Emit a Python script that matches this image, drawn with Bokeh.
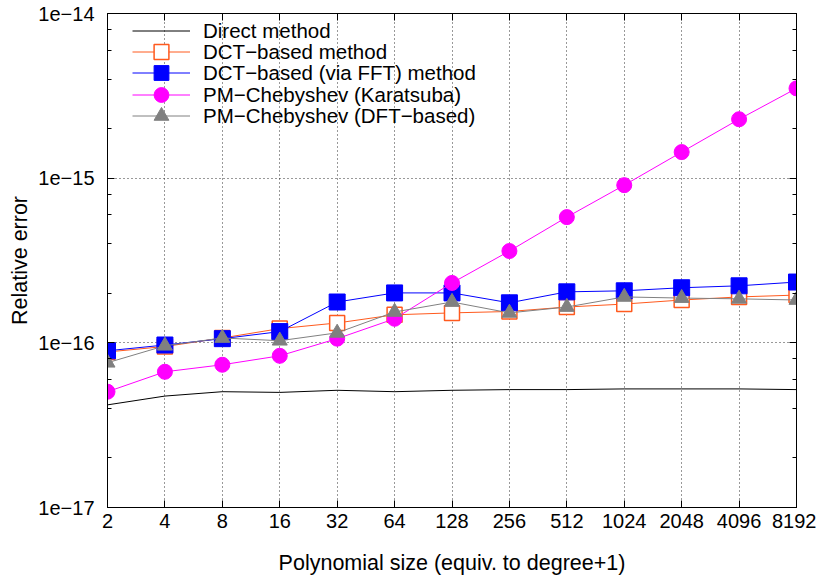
from bokeh.plotting import figure
from bokeh.models import (LogAxis, FixedTicker, LogTicker, CustomJSTickFormatter,
                          Legend, LegendItem, Range1d)
from bokeh.embed import file_html
from bokeh.resources import INLINE

sizes = [2, 4, 8, 16, 32, 64, 128, 256, 512, 1024, 2048, 4096, 8192]
size_labels = ["2", "4", "8", "16", "32", "64", "128", "256", "512", "1024", "2048", "4096", "8192"]

direct = [4.2e-17, 4.75e-17, 5.05e-17, 5.0e-17, 5.15e-17, 5.05e-17, 5.15e-17,
          5.2e-17, 5.2e-17, 5.25e-17, 5.25e-17, 5.25e-17, 5.2e-17]
dct = [8.8e-17, 9.5e-17, 1.07e-16, 1.22e-16, 1.32e-16, 1.48e-16, 1.52e-16,
       1.55e-16, 1.65e-16, 1.72e-16, 1.82e-16, 1.90e-16, 1.95e-16]
dct_fft = [8.95e-17, 9.7e-17, 1.06e-16, 1.17e-16, 1.77e-16, 2.01e-16, 2.01e-16,
           1.75e-16, 2.04e-16, 2.07e-16, 2.16e-16, 2.22e-16, 2.34e-16]
karatsuba = [5.05e-17, 6.67e-17, 7.36e-17, 8.34e-17, 1.06e-16, 1.40e-16, 2.31e-16,
             3.61e-16, 5.80e-16, 9.07e-16, 1.44e-15, 2.28e-15, 3.51e-15]
dft = [7.57e-17, 9.6e-17, 1.07e-16, 1.03e-16, 1.15e-16, 1.54e-16, 1.77e-16,
       1.52e-16, 1.65e-16, 1.90e-16, 1.87e-16, 1.85e-16, 1.82e-16]

FONT = "Liberation Sans"

p = figure(width=816, height=577, x_axis_type="log", y_axis_type="log",
           x_range=Range1d(2, 8192), y_range=Range1d(1e-17, 1e-14),
           output_backend="svg", toolbar_location=None,
           min_border_left=107, min_border_right=20, min_border_top=13,
           min_border_bottom=66)
p.background_fill_color = "white"
p.outline_line_color = "black"
p.outline_line_width = 1

xt = FixedTicker(ticks=sizes, minor_ticks=[])
xfmt = CustomJSTickFormatter(code="return Math.round(tick).toString();")
yt = LogTicker(mantissas=[1], desired_num_ticks=4)
yfmt = CustomJSTickFormatter(code="return '1e\u2212' + Math.round(-Math.log10(tick));")

for ax in p.xaxis:
    ax.ticker = xt
    ax.formatter = xfmt
    ax.major_tick_in = 7
    ax.major_tick_out = 0
    ax.minor_tick_in = 0
    ax.minor_tick_out = 0
    ax.major_label_text_font = FONT
    ax.major_label_text_font_size = "20px"
    ax.major_label_text_color = "black"
    ax.major_label_standoff = 6
    ax.axis_label = "Polynomial size (equiv. to degree+1)"
    ax.axis_label_text_font = FONT
    ax.axis_label_text_font_size = "21.5px"
    ax.axis_label_text_font_style = "normal"
    ax.axis_label_text_color = "black"
    ax.axis_label_standoff = 20
    ax.axis_line_color = "black"
    ax.major_tick_line_color = "black"

for ax in p.yaxis:
    ax.ticker = yt
    ax.formatter = yfmt
    ax.major_tick_in = 7
    ax.major_tick_out = 0
    ax.minor_tick_in = 4
    ax.minor_tick_out = 0
    ax.major_label_text_font = FONT
    ax.major_label_text_font_size = "20px"
    ax.major_label_text_color = "black"
    ax.major_label_standoff = 13
    ax.axis_label = "Relative error"
    ax.axis_label_text_font = FONT
    ax.axis_label_text_font_size = "21.5px"
    ax.axis_label_text_font_style = "normal"
    ax.axis_label_text_color = "black"
    ax.axis_label_standoff = 3
    ax.axis_line_color = "black"
    ax.major_tick_line_color = "black"
    ax.minor_tick_line_color = "black"

blank = CustomJSTickFormatter(code="return '';")
top = LogAxis(ticker=xt, formatter=blank, major_label_text_font_size="10px",
              major_label_standoff=0,
              major_tick_in=7, major_tick_out=0, minor_tick_in=0, minor_tick_out=0,
              axis_line_color="black")
right = LogAxis(ticker=yt, formatter=blank, major_label_text_font_size="10px",
                major_label_standoff=0,
                major_tick_in=7, major_tick_out=0, minor_tick_in=4, minor_tick_out=0,
                axis_line_color="black")
p.add_layout(top, "above")
p.add_layout(right, "right")

for g in p.xgrid + p.ygrid:
    g.grid_line_color = "black"
    g.grid_line_alpha = 0.8
    g.grid_line_dash = "1 3"
    g.grid_line_width = 1
p.ygrid.ticker = yt
p.xgrid.ticker = xt

items = []
r = p.line(sizes, direct, line_color="black", line_width=1)
items.append(LegendItem(label="Direct method", renderers=[r]))

orange = "#ff5a1e"
r1 = p.line(sizes, dct, line_color=orange, line_width=1)
r2 = p.scatter(sizes, dct, marker="square", size=15, fill_color="white",
               line_color=orange, line_width=1.5)
items.append(LegendItem(label="DCT\u2212based method", renderers=[r1, r2]))

r1 = p.line(sizes, dct_fft, line_color="#0000ff", line_width=1)
r2 = p.scatter(sizes, dct_fft, marker="square", size=16, fill_color="#0000ff",
               line_color="#0000ff")
items.append(LegendItem(label="DCT\u2212based (via FFT) method", renderers=[r1, r2]))

r1 = p.line(sizes, karatsuba, line_color="#ff00ff", line_width=1)
r2 = p.scatter(sizes, karatsuba, marker="circle", size=15, fill_color="#ff00ff",
               line_color="#ff00ff")
items.append(LegendItem(label="PM\u2212Chebyshev (Karatsuba)", renderers=[r1, r2]))

r1 = p.line(sizes, dft, line_color="#808080", line_width=1)
r2 = p.scatter(sizes, dft, marker="triangle", size=15, fill_color="#808080",
               line_color="#808080")
items.append(LegendItem(label="PM\u2212Chebyshev (DFT\u2212based)", renderers=[r1, r2]))

# one legend per row so that large legend markers can sit on a tight row pitch
row_bottoms = [458, 437, 416, 394, 373]
for item, yb in zip(items, row_bottoms):
    lg = Legend(items=[item], location=(25, yb), padding=0, margin=0, spacing=0,
                glyph_width=58, glyph_height=37, label_height=37, label_standoff=13,
                label_text_font=FONT, label_text_font_size="20.5px",
                label_text_color="black", background_fill_alpha=0,
                border_line_color=None)
    p.add_layout(lg)

open("out.html", "w").write(file_html(p, INLINE))
